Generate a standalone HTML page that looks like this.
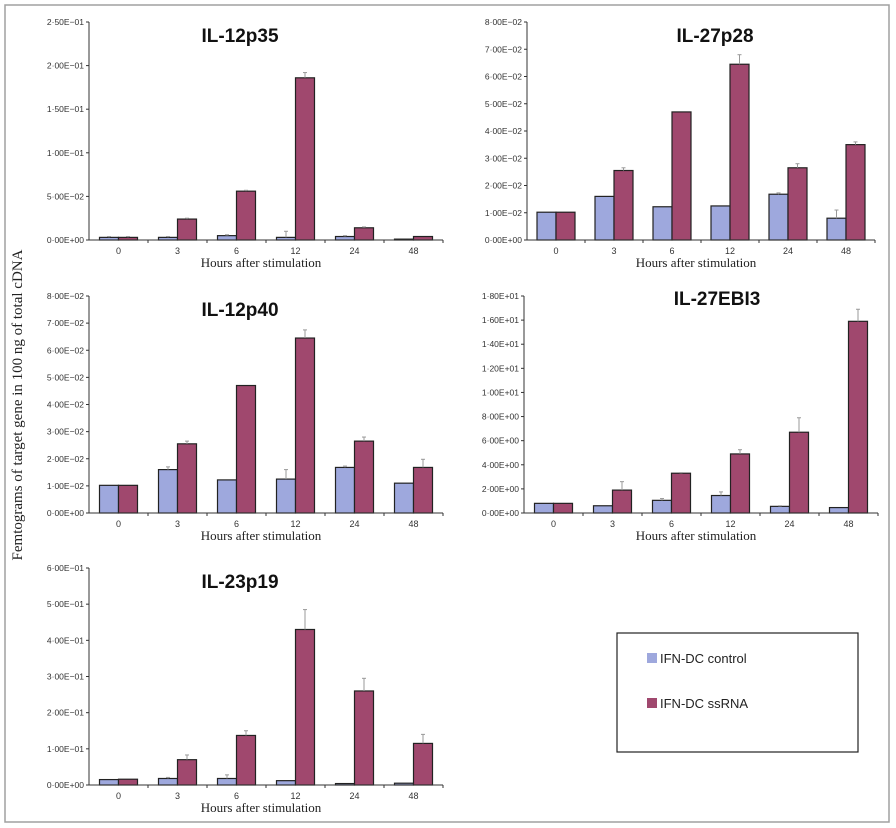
<!DOCTYPE html>
<html><head><meta charset="utf-8"><style>
body{margin:0;background:#fff;width:896px;height:828px;overflow:hidden}
svg{display:block}
</style></head><body>
<svg id="c" width="896" height="828" xmlns="http://www.w3.org/2000/svg">
<rect x="5" y="5" width="884" height="817" fill="none" stroke="#a0a0a0" stroke-width="1.5"/>
<text transform="translate(22,405) rotate(-90)" text-anchor="middle" font-family="Liberation Serif, serif" font-size="15" fill="#222">Femtograms of target gene in 100 ng of total cDNA</text>
<g>
<rect x="617" y="633" width="241" height="119" fill="#fff" stroke="#222" stroke-width="1.2"/>
<rect x="647" y="653" width="10" height="10" fill="#9ea8dd"/>
<text x="660" y="663" font-family="Liberation Sans, sans-serif" font-size="13" fill="#222">IFN-DC control</text>
<rect x="647" y="698" width="10" height="10" fill="#a0486e"/>
<text x="660" y="708" font-family="Liberation Sans, sans-serif" font-size="13" fill="#222">IFN-DC ssRNA</text>
</g>
</svg>
<script>
const categories=["0","3","6","12","24","48"];
const titles=["IL-12p35","IL-27p28","IL-12p40","IL-27EBI3","IL-23p19"];
const controlP1=[0.003,0.003,0.005,0.003,0.004,0.001];
const ssrnaP1=[0.003,0.024,0.056,0.186,0.014,0.004];
const errCP1=[0.001,0.001,0.001,0.007,0.001,0];
const errSP1=[0.001,0.001,0.001,0.006,0.001,0];
const controlP2=[0.0102,0.016,0.0122,0.0125,0.0168,0.008];
const ssrnaP2=[0.0102,0.0255,0.047,0.0645,0.0265,0.035];
const errCP2=[0,0,0,0,0.0005,0.003];
const errSP2=[0,0.001,0,0.0035,0.0015,0.001];
const controlP3=[0.0102,0.016,0.0122,0.0125,0.0168,0.011];
const ssrnaP3=[0.0102,0.0255,0.047,0.0645,0.0265,0.0168];
const errCP3=[0,0.001,0,0.0035,0.0005,0];
const errSP3=[0,0.001,0,0.003,0.0015,0.003];
const controlP4=[0.8,0.6,1.05,1.45,0.55,0.45];
const ssrnaP4=[0.8,1.9,3.3,4.9,6.7,15.9];
const errCP4=[0,0,0.15,0.3,0.05,0];
const errSP4=[0,0.7,0.05,0.35,1.2,1.0];
const controlP5=[0.015,0.018,0.018,0.012,0.004,0.005];
const ssrnaP5=[0.016,0.07,0.137,0.43,0.26,0.115];
const errCP5=[0,0.003,0.01,0,0,0];
const errSP5=[0,0.013,0.013,0.055,0.035,0.025];
const tickLabelsP1=["0·00E+00","5·00E−02","1·00E−01","1·50E−01","2·00E−01","2·50E−01"];
const tickLabelsP2=["0·00E+00","1·00E−02","2·00E−02","3·00E−02","4·00E−02","5·00E−02","6·00E−02","7·00E−02","8·00E−02"];
const tickLabelsP3=tickLabelsP2;
const tickLabelsP4=["0·00E+00","2·00E+00","4·00E+00","6·00E+00","8·00E+00","1·00E+01","1·20E+01","1·40E+01","1·60E+01","1·80E+01"];
const tickLabelsP5=["0·00E+00","1·00E−01","2·00E−01","3·00E−01","4·00E−01","5·00E−01","6·00E−01"];
const maxP=[0.25,0.08,0.08,18,0.6];

const svg=document.getElementById('c');
const NS='http://www.w3.org/2000/svg';
function mk(tag,attrs,parent){const e=document.createElementNS(NS,tag);for(const k in attrs)e.setAttribute(k,attrs[k]);parent.appendChild(e);return e;}
const layouts=[
 {x0:89,x1:443,yTop:22,yBot:240,tx:240,ty:42,xl:263},
 {x0:527,x1:875,yTop:22,yBot:240,tx:715,ty:42,xl:265},
 {x0:89,x1:443,yTop:296,yBot:513,tx:240,ty:316,xl:530},
 {x0:524,x1:878,yTop:296,yBot:513,tx:717,ty:305,xl:530},
 {x0:89,x1:443,yTop:568,yBot:785,tx:240,ty:588,xl:802}
];
const data=[
 [controlP1,ssrnaP1,errCP1,errSP1,tickLabelsP1],
 [controlP2,ssrnaP2,errCP2,errSP2,tickLabelsP2],
 [controlP3,ssrnaP3,errCP3,errSP3,tickLabelsP3],
 [controlP4,ssrnaP4,errCP4,errSP4,tickLabelsP4],
 [controlP5,ssrnaP5,errCP5,errSP5,tickLabelsP5]
];
layouts.forEach((L,p)=>{
 const [ctl,ss,ec,es,ticks]=data[p];
 const g=mk('g',{},svg);
 
 
 const maxV=maxP[p];
 const y=v=>L.yBot-(v/maxV)*(L.yBot-L.yTop);
 const step=(L.x1-L.x0)/categories.length;
 const xc=i=>L.x0+step*(i+0.5);
 const t=mk('text',{x:L.tx,y:L.ty,'text-anchor':'middle','font-family':'Liberation Sans, sans-serif','font-size':19,'font-weight':'bold',fill:'#111'},g);
 t.textContent=titles[p];
 
 
 ticks.forEach((lab,i)=>{
  const v=maxV*i/(ticks.length-1);
  const yy=y(v);
  const tl=mk('line',{x1:L.x0-3,x2:L.x0,y1:yy,y2:yy,stroke:'#333','stroke-width':1},g);
  
  
  const tt=mk('text',{x:L.x0-5,y:yy+3,'text-anchor':'end','font-family':'Liberation Sans, sans-serif','font-size':8.5,fill:'#333'},g);
  tt.textContent=lab;
  
  
 });
 categories.forEach((c,i)=>{
  const cx=xc(i);
  const bw=19;
  [[ctl,ec,'#9ea8dd',cx-bw,'bar-control'],[ss,es,'#a0486e',cx,'bar-ssrna']].forEach(([arr,err,col,bx,nm])=>{
   const v=arr[i];
   const r=mk('rect',{x:bx,y:y(v),width:bw,height:Math.max(0.5,L.yBot-y(v)),fill:col,stroke:'#222','stroke-width':1.2},g);
   
   
   if(err[i]>0){
    const el=mk('line',{x1:bx+bw/2,x2:bx+bw/2,y1:y(v),y2:y(v+err[i]),stroke:'#999','stroke-width':1},g);
    
    
    const ec2=mk('line',{x1:bx+bw/2-2,x2:bx+bw/2+2,y1:y(v+err[i]),y2:y(v+err[i]),stroke:'#999','stroke-width':1},g);
    
    
   }
  });
  const xt=mk('line',{x1:L.x0+step*(i+1),x2:L.x0+step*(i+1),y1:L.yBot,y2:L.yBot+3,stroke:'#333','stroke-width':1},g);
  
  
  const xl=mk('text',{x:cx,y:L.yBot+14,'text-anchor':'middle','font-family':'Liberation Sans, sans-serif','font-size':9,fill:'#333'},g);
  xl.textContent=c;
  
  
 });
 const ya=mk('line',{x1:L.x0,x2:L.x0,y1:L.yTop,y2:L.yBot,stroke:'#333','stroke-width':1},g);
 
 
 const xa=mk('line',{x1:L.x0,x2:L.x1,y1:L.yBot,y2:L.yBot,stroke:'#333','stroke-width':1},g);
 
 
 const xtitle=mk('text',{x:(L.x0+L.x1)/2-5,y:L.yBot+27,'text-anchor':'middle','font-family':'Liberation Serif, serif','font-size':13,fill:'#222'},g);
 xtitle.textContent='Hours after stimulation';
 
 
});
</script>
</body></html>
